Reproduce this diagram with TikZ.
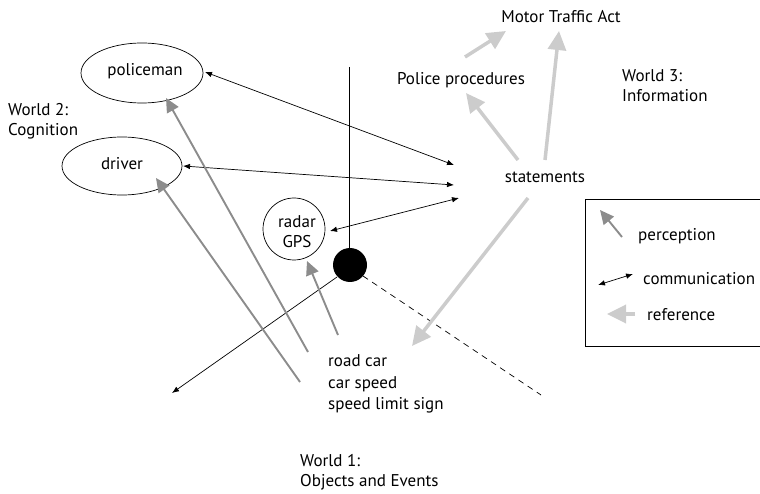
\documentclass[tikz,border=0pt]{standalone}
\usepackage{fontspec}
\setmainfont{PT Sans}
\usetikzlibrary{arrows.meta}
\definecolor{percgray}{HTML}{8C8C8C}
\definecolor{refgray}{HTML}{CCCCCC}
\tikzset{
  txt/.style={font=\fontsize{17}{20}\selectfont, inner sep=0pt, align=left},
  comm/.style={line width=0.7pt, {Latex[length=7pt,width=5.5pt]}-{Latex[length=7pt,width=5.5pt]}},
  perc/.style={draw=percgray, line width=1.9pt, -{Triangle[length=14pt,width=13pt]}, color=percgray},
  refa/.style={draw=refgray, line width=3.5pt, -{Triangle[length=19pt,width=18pt]}, color=refgray},
}
\begin{document}
\begin{tikzpicture}[x=1pt,y=-1pt]
\useasboundingbox (0,0) rectangle (760,494);
% ellipses
\draw[line width=0.7pt] (142,73) ellipse [x radius=61, y radius=30];
\draw[line width=0.7pt] (122,166) ellipse [x radius=60, y radius=29];
\draw[line width=0.7pt] (294,229) circle [radius=31];
\node[txt, anchor=center] (police) at (145,71) {policeman};
\node[txt, anchor=center] (driver) at (122,164) {driver};
\node[txt, anchor=center, align=center] (radar) at (297,232) {radar\\GPS};
% black dot and lines
\fill (350,265) circle [radius=17] coordinate (dot);
\coordinate (vtop) at (349,67);
\draw[line width=0.7pt] (vtop) -- (349,248);
\coordinate (dashend) at (541,395);
\draw[line width=0.7pt, dash pattern=on 6pt off 5pt] (363,276) -- (dashend);
\coordinate (dlstart) at (337,277);
\coordinate (dlend) at (172,393);
\draw[line width=0.7pt, -{Latex[length=7pt,width=5.5pt]}] (dlstart) -- (dlend);
% texts
\node[txt, anchor=center] (mta) at (561,17) {Motor Traffic Act};
\node[txt, anchor=center] (pp) at (461,80) {Police procedures};
\node[txt, anchor=west] (w3) at (622,86) {World 3:\\Information};
\node[txt, anchor=west] (w2) at (8,121) {World 2:\\Cognition};
\node[txt, anchor=center] (st) at (545,177) {statements};
\node[txt, anchor=west] (w1) at (300,472) {World 1:\\Objects and Events};
\node[txt, anchor=west, font=\fontsize{17}{21.5}\selectfont] (objs) at (328,384) {road car\\car speed\\speed limit sign};
% communication arrows
\coordinate (s1) at (454,165);
\coordinate (s2) at (454,185);
\coordinate (s3) at (459,198);
\coordinate (p1) at (205,72);
\coordinate (d1) at (183,166);
\coordinate (r1) at (330,231);
\draw[comm] (p1) -- (s1);
\draw[comm] (d1) -- (s2);
\draw[comm] (r1) -- (s3);
% perception arrows
\coordinate (pe1) at (308,352);
\coordinate (pt1) at (166,98);
\coordinate (pe2) at (300,382);
\coordinate (pt2) at (156,178);
\coordinate (pe3) at (338,335);
\coordinate (pt3) at (307,261);
\draw[perc] (pe1) -- (pt1);
\draw[perc] (pe2) -- (pt2);
\draw[perc] (pe3) -- (pt3);
% reference arrows
\coordinate (ra1) at (518,160);
\coordinate (rt1) at (466,93);
\coordinate (ra2) at (545,160);
\coordinate (rt2) at (559,31);
\coordinate (ra3) at (465,57);
\coordinate (rt3) at (506,31);
\coordinate (ra4) at (528,198);
\coordinate (rt4) at (412,346);
\draw[refa] (ra1) -- (rt1);
\draw[refa] (ra2) -- (rt2);
\draw[refa] (ra3) -- (rt3);
\draw[refa] (ra4) -- (rt4);
% legend
\draw[line width=0.7pt] (585,199) rectangle (766,346);
\coordinate (lp1) at (622,237);
\coordinate (lp2) at (600,210);
\draw[perc] (lp1) -- (lp2);
\node[txt, anchor=west] (lperc) at (638,236) {perception};
\coordinate (lc1) at (598,285);
\coordinate (lc2) at (633,274);
\draw[comm] (lc1) -- (lc2);
\node[txt, anchor=west] (lcomm) at (643,279) {communication};
\coordinate (lr1) at (635,314);
\coordinate (lr2) at (607,314);
\draw[refa] (lr1) -- (lr2);
\node[txt, anchor=west] (lref) at (647,315) {reference};
\end{tikzpicture}
\end{document}
